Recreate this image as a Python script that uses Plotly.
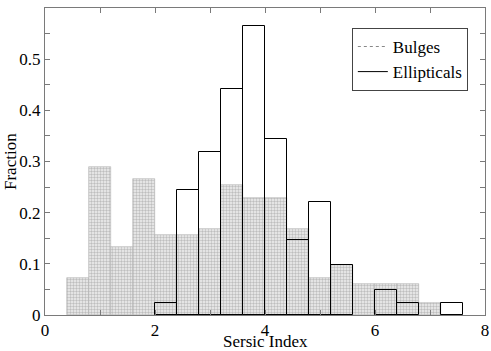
import plotly.graph_objects as go

bin_left = [0.4, 0.8, 1.2, 1.6, 2.0, 2.4, 2.8, 3.2, 3.6, 4.0, 4.4, 4.8, 5.2, 5.6, 6.0, 6.4, 6.8, 7.2]
bin_width = 0.4
bulges = [0.073, 0.290, 0.133, 0.266, 0.156, 0.156, 0.169, 0.254, 0.229, 0.229,
          0.169, 0.073, 0.097, 0.060, 0.060, 0.060, 0.023, 0.0]
ellipticals = [0.0, 0.0, 0.0, 0.0, 0.023, 0.245, 0.318, 0.442, 0.565, 0.344,
               0.147, 0.221, 0.097, 0.0, 0.048, 0.023, 0.0, 0.023]

centers = [b + bin_width / 2 for b in bin_left]
font = "Liberation Serif, Times New Roman, Times, serif"
axis_col = "#7a7a7a"

fig = go.Figure()
fig.add_trace(go.Bar(
    x=centers, y=bulges, width=bin_width, showlegend=False,
    marker=dict(color="white",
                line=dict(color="#b0b0b0", width=0.6),
                pattern=dict(shape=".", fgcolor="#8c8c8c", bgcolor="#f0f0f0",
                             size=3, solidity=0.5)),
))
fig.add_trace(go.Bar(
    x=centers, y=[v if v > 0 else None for v in ellipticals], width=bin_width, showlegend=False,
    marker=dict(color="rgba(0,0,0,0)", line=dict(color="black", width=1)),
))
fig.add_trace(go.Scatter(x=[None], y=[None], mode="lines", name="Bulges",
                         line=dict(color="#888", width=1, dash="dot")))
fig.add_trace(go.Scatter(x=[None], y=[None], mode="lines", name="Ellipticals",
                         line=dict(color="black", width=1)))

fig.update_layout(
    width=491, height=351,
    margin=dict(l=45, r=6, t=8, b=36, autoexpand=False),
    barmode="overlay", bargap=0,
    plot_bgcolor="white", paper_bgcolor="white",
    font=dict(family=font, size=17, color="black"),
    legend=dict(x=0.961, y=0.935, xanchor="right", yanchor="top",
                bordercolor="#444", borderwidth=1, bgcolor="white",
                font=dict(family=font, size=17), tracegroupgap=0,
                itemwidth=30),
    annotations=[
        dict(text="Sersic Index", x=0.5, y=0, xref="paper", yref="paper",
             yshift=-15, xanchor="center", yanchor="top", showarrow=False,
             font=dict(family=font, size=17)),
        dict(text="Fraction", x=0, y=0.5, xref="paper", yref="paper",
             xshift=-46, xanchor="left", yanchor="middle", showarrow=False,
             textangle=-90, font=dict(family=font, size=17)),
    ],
)
fig.update_xaxes(
    range=[0, 8], dtick=2, tick0=0, ticks="inside", ticklen=5, tickcolor=axis_col,
    minor=dict(dtick=1, ticks="inside", ticklen=5, tickcolor=axis_col),
    showline=True, linecolor=axis_col, linewidth=1, mirror="allticks",
    showgrid=False, zeroline=False, automargin=False,
    tickfont=dict(family=font, size=17),
)
fig.update_yaxes(
    range=[0, 0.6], dtick=0.1, tick0=0, ticks="inside", ticklen=5, tickcolor=axis_col,
    minor=dict(dtick=0.05, ticks="inside", ticklen=5, tickcolor=axis_col),
    showline=True, linecolor=axis_col, linewidth=1, mirror="allticks",
    showgrid=False, zeroline=False, automargin=False,
    tickfont=dict(family=font, size=17),
)

fig.write_html("out.html", config={"displayModeBar": False},
               post_script="document.body.style.margin='0px';")
